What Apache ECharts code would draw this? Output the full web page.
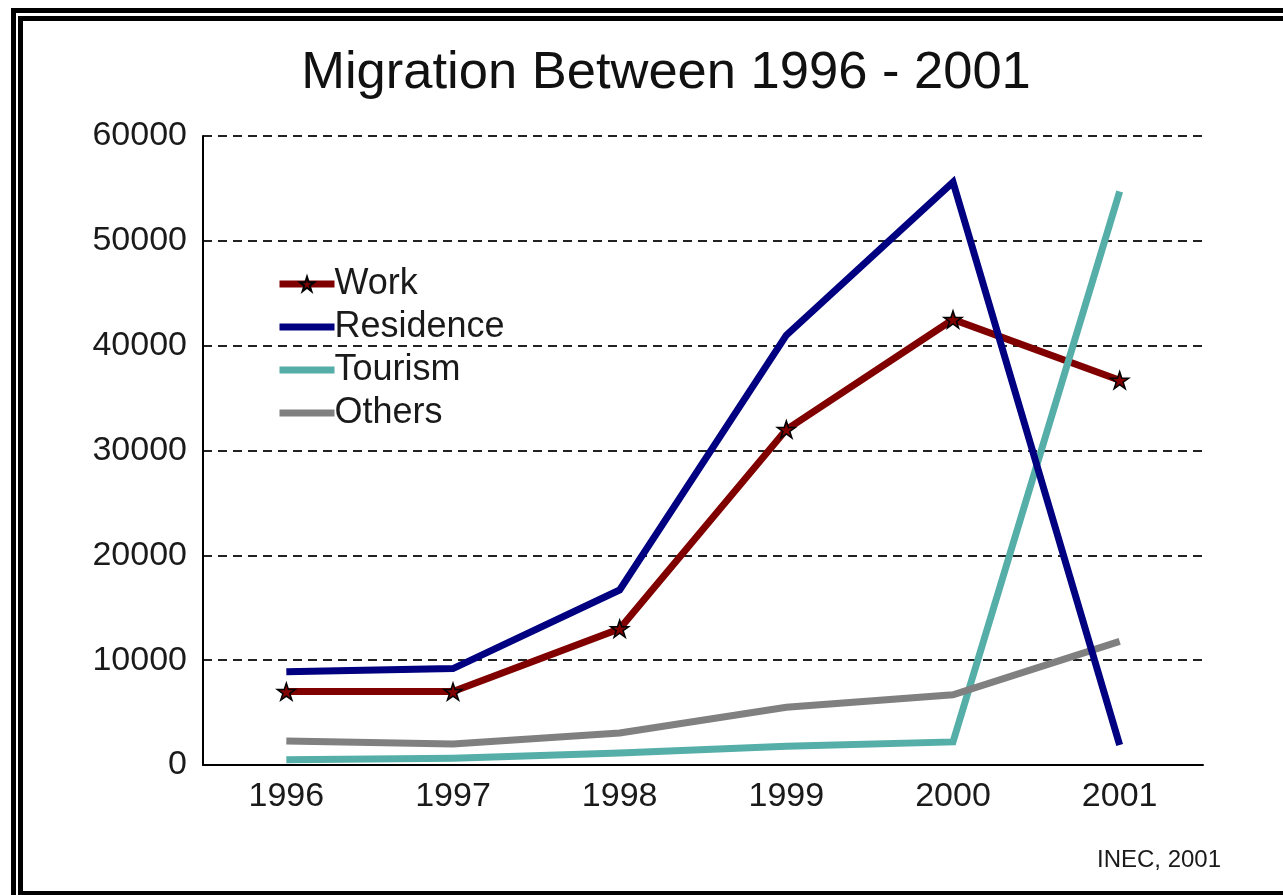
<!DOCTYPE html>
<html>
<head>
<meta charset="utf-8">
<title>Migration Between 1996 - 2001</title>
<script src="https://cdn.jsdelivr.net/npm/echarts@6/dist/echarts.min.js"></script>
<style>
  html, body { margin: 0; padding: 0; background: #ffffff; }
  #chart { width: 1283px; height: 895px; }
</style>
</head>
<body>
<div id="chart"></div>
<script>
// Years on the category axis
const years = ['1996', '1997', '1998', '1999', '2000', '2001'];

// Number of migrants per purpose of stay
const work      = [7000, 7000, 13000, 32000, 42500, 36700];
const residence = [8900, 9200, 16700, 41000, 55600, 1900];
const tourism   = [500, 650, 1150, 1800, 2200, 54700];
const others    = [2300, 2000, 3050, 5500, 6700, 11800];

const seriesNames = ['Work', 'Residence', 'Tourism', 'Others'];
const seriesColors = ['#800000', '#000080', '#55aea7', '#808080'];

const yTicks = { min: 0, max: 60000, interval: 10000 };

const FONT = "'Liberation Sans', Arial, sans-serif";
const STAR = 'path://M50,0 L61.2,34.5 L97.6,34.5 L68.2,55.9 L79.4,90.5 L50,69.1 L20.6,90.5 L31.8,55.9 L2.4,34.5 L38.8,34.5 Z';
// flat thick bar used as the legend key of the plain lines
const BAR = 'path://M0,0 L100,0 L100,12.5 L0,12.5 Z';

const chart = echarts.init(document.getElementById('chart'), null, { renderer: 'canvas' });

function lineSeries(idx, data, z, withStars) {
  return {
    name: seriesNames[idx],
    type: 'line',
    data: data,
    z: z,
    color: seriesColors[idx],
    lineStyle: { color: seriesColors[idx], width: 7, join: 'miter' },
    itemStyle: withStars
      ? { color: seriesColors[idx], borderColor: '#000000', borderWidth: 1.5 }
      : { color: seriesColors[idx] },
    symbol: withStars ? STAR : 'none',
    symbolSize: [18, 17],
    showSymbol: withStars,
    animation: false,
    emphasis: { disabled: true }
  };
}

const option = {
  backgroundColor: '#ffffff',
  animation: false,
  title: {
    text: 'Migration Between 1996 - 2001',
    left: 661,
    textAlign: 'center',
    top: 42,
    textStyle: { fontFamily: FONT, fontSize: 52.5, fontWeight: 'normal', color: '#111111' }
  },
  legend: {
    orient: 'vertical',
    left: 276,
    top: 266,
    padding: 0,
    itemWidth: 55,
    itemHeight: 18,
    itemGap: 7,
    lineStyle: { width: 7 },
    data: [
      { name: 'Work' },
      { name: 'Residence', icon: BAR },
      { name: 'Tourism', icon: BAR },
      { name: 'Others', icon: BAR }
    ],
    textStyle: { fontFamily: FONT, fontSize: 36, color: '#1a1a1a', lineHeight: 36, padding: [0, 0, 0, -5] },
    selectedMode: false
  },
  grid: { left: 203, right: 80, top: 136, bottom: 130, containLabel: false },
  xAxis: {
    type: 'category',
    data: years,
    boundaryGap: true,
    axisLine: { show: true, lineStyle: { color: '#000000', width: 2 } },
    axisTick: { show: false },
    axisLabel: { fontFamily: FONT, fontSize: 34, color: '#1a1a1a', margin: 15 },
    splitLine: { show: false }
  },
  yAxis: {
    type: 'value',
    min: yTicks.min,
    max: yTicks.max,
    interval: yTicks.interval,
    axisLine: { show: true, lineStyle: { color: '#000000', width: 2 } },
    axisTick: { show: false },
    axisLabel: {
      fontFamily: FONT, fontSize: 34, color: '#1a1a1a', margin: 16,
      formatter: (v) => String(v)
    },
    splitLine: { show: true, lineStyle: { color: '#222222', width: 2, type: [9, 6] } }
  },
  series: [
    lineSeries(0, work, 2, true),
    lineSeries(1, residence, 6, false),
    lineSeries(2, tourism, 3, false),
    lineSeries(3, others, 4, false)
  ],
  graphic: [
    // double frame around the chart
    { type: 'rect', shape: { x: 11, y: 8, width: 1272, height: 5 }, style: { fill: '#000000' }, silent: true },
    { type: 'rect', shape: { x: 11, y: 8, width: 5, height: 887 }, style: { fill: '#000000' }, silent: true },
    { type: 'rect', shape: { x: 18, y: 16, width: 1265, height: 5 }, style: { fill: '#000000' }, silent: true },
    { type: 'rect', shape: { x: 18, y: 16, width: 5, height: 879 }, style: { fill: '#000000' }, silent: true },
    { type: 'rect', shape: { x: 18, y: 891, width: 1265, height: 4 }, style: { fill: '#000000' }, silent: true },
    // source note
    {
      type: 'text',
      left: 1097,
      top: 848,
      style: { text: 'INEC, 2001', fontFamily: FONT, fontSize: 24, fill: '#1a1a1a' },
      silent: true
    }
  ]
};

chart.setOption(option);
</script>
</body>
</html>
